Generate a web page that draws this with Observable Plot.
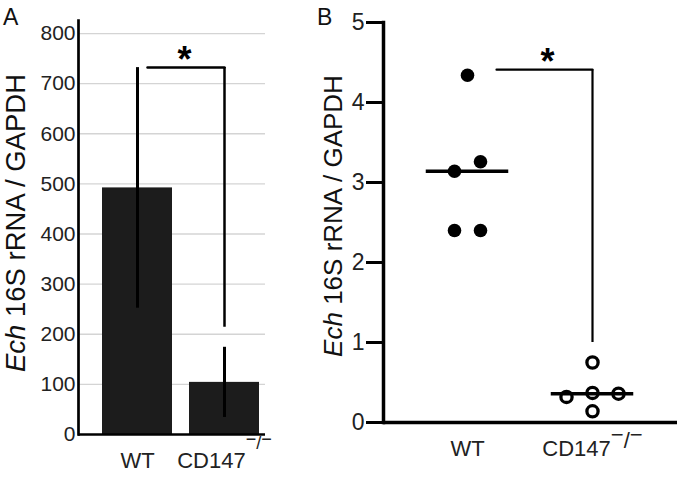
<!DOCTYPE html>
<html><head><meta charset="utf-8">
<script src="https://cdn.jsdelivr.net/npm/d3@7"></script>
<script src="https://cdn.jsdelivr.net/npm/@observablehq/plot@0.6"></script>
<style>
html,body{margin:0;padding:0;background:#fff;}
#wrap{position:relative;width:680px;height:480px;overflow:hidden;background:#fff;}
#wrap svg{position:absolute;top:0;}
</style></head><body><div id="wrap"></div>
<script>
// ---- data ----
const groups = ["WT", "CD147"];
const superscript = ["−", "/", "−"];
const yTitle = ["Ech", " 16S rRNA / GAPDH"];
const panelLetters = ["A", "B"];
// Panel A: mean ± SD
const meanA = [492, 104];
const sdA = [240, 70];
const yTicksA = [0, 100, 200, 300, 400, 500, 600, 700, 800];
// Panel B: individual values
const wtB = [4.34, 3.14, 3.26, 2.40, 2.40];
const cdB = [0.75, 0.32, 0.37, 0.36, 0.14];
const slotWT = [0, -0.5, 0.5, -0.5, 0.5];
const slotCD = [0, -1, 0, 1, 0];
const yTicksB = [0, 1, 2, 3, 4, 5];
// significance brackets
const sigA = {from: "WT", to: "CD147", top: 732, end: 214, label: "*"};
const sigB = {from: 1, to: 2, top: 4.41, end: 1.0, label: "*"};

const font = '"Liberation Sans", Arial, Helvetica, sans-serif';
const wrap = document.getElementById("wrap");

// ---- Panel A ----
const dataA = groups.map((g, i) => ({group: g, mean: meanA[i], lo: meanA[i] - sdA[i], hi: meanA[i] + sdA[i]}));
const plotA = Plot.plot({
  width: 300, height: 480,
  marginLeft: 78, marginRight: 35, marginTop: 20, marginBottom: 46,
  style: {fontFamily: font, color: "#111", background: "transparent", overflow: "visible"},
  x: {domain: groups, range: [85, 276], padding: 0.195, axis: null},
  y: {domain: [0, 826], axis: null},
  marks: [
    Plot.ruleY(yTicksA.filter(d => d > 0), {stroke: "#d4d4d4", strokeWidth: 1.3}),
    Plot.axisY({ticks: yTicksA, tickSize: 0, tickPadding: 3, fontSize: 21, label: null, fill: "#222"}),
    Plot.barY(dataA, {x: "group", y: "mean", fill: "#1c1c1c"}),
    Plot.ruleX(dataA, {x: "group", y1: "lo", y2: "hi", stroke: "#000", strokeWidth: 3}),
    Plot.axisX({tickSize: 0, tickPadding: 18, fontSize: 22, label: null, fill: "#222"}),
    Plot.frame({anchor: "left", stroke: "#000", strokeWidth: 2.7}),
    Plot.ruleY([0], {stroke: "#000", strokeWidth: 2.7}),
    Plot.arrow([sigA], {x1: "from", x2: "to", y1: "top", y2: "top", headLength: 0, insetStart: 10, stroke: "#000", strokeWidth: 2.5}),
    Plot.ruleX([sigA], {x: "to", y1: "end", y2: "top", stroke: "#000", strokeWidth: 2.5}),
    Plot.text([sigA], {x: "to", y: "top", text: "label", dx: -40, dy: 4, lineAnchor: "bottom", fontSize: 36, fontWeight: "bold", fill: "#000"})
  ]
});
plotA.style.left = "0px";
wrap.appendChild(plotA);

// ---- Panel B ----
const dotsWT = wtB.map((v, i) => ({gi: 1, v, slot: slotWT[i]}));
const dotsCD = cdB.map((v, i) => ({gi: 2, v, slot: slotCD[i]}));
const medB = [{gi: 1, m: d3.median(wtB)}, {gi: 2, m: d3.median(cdB)}];
const plotB = Plot.plot({
  width: 380, height: 480,
  marginLeft: 83, marginRight: 3, marginTop: 22, marginBottom: 58,
  style: {fontFamily: font, color: "#111", background: "transparent", overflow: "visible"},
  x: {type: "linear", domain: [0.328, 2.68], axis: null},
  y: {domain: [0, 5], axis: null},
  marks: [
    Plot.axisY({ticks: yTicksB, tickFormat: d3.format("d"), tickSize: 17, tickPadding: 2, fontSize: 23, strokeWidth: 3, stroke: "#000", label: null, fill: "#222"}),
    Plot.axisX({ticks: [1, 2], tickFormat: i => groups[i - 1], tickSize: 0, tickPadding: 18, fontSize: 22, label: null, fill: "#222"}),
    Plot.frame({anchor: "left", stroke: "#000", strokeWidth: 3.5}),
    Plot.ruleY([0], {stroke: "#000", strokeWidth: 3.5}),
    Plot.dot(dotsWT, {x: d => d.gi + d.slot * 0.208, y: "v", r: 6.8, fill: "#000", stroke: "none"}),
    Plot.dot(dotsCD, {x: d => d.gi + d.slot * 0.208, y: "v", r: 5.6, fill: "#fff", stroke: "#000", strokeWidth: 3.3}),
    Plot.ruleY(medB, {y: "m", x1: d => d.gi - 0.33, x2: d => d.gi + 0.33, stroke: "#000", strokeWidth: 3.5}),
    Plot.arrow([sigB], {x1: "from", x2: "to", y1: "top", y2: "top", headLength: 0, insetStart: 29, stroke: "#000", strokeWidth: 2.2}),
    Plot.ruleX([sigB], {x: "to", y1: "end", y2: "top", stroke: "#000", strokeWidth: 2.2}),
    Plot.text([sigB], {x: "to", y: "top", text: "label", dx: -45, dy: 4, lineAnchor: "bottom", fontSize: 36, fontWeight: "bold", fill: "#000"})
  ]
});
plotB.style.left = "300px";
wrap.appendChild(plotB);

// ---- decorations: panel letters, y titles, superscripts ----
function decorate(svg, o) {
  const s = d3.select(svg);
  s.append("text").attr("x", o.letterX).attr("y", 25).attr("font-family", font)
    .attr("text-anchor", "start")
    .attr("font-size", 23).attr("fill", "#111").text(o.letter);
  const t = s.append("text")
    .attr("transform", `translate(${o.titleX},${o.titleY}) rotate(-90)`)
    .attr("text-anchor", "middle").attr("font-family", font)
    .attr("font-size", o.titleSize).attr("fill", "#111");
  t.append("tspan").attr("font-style", "italic").text(yTitle[0]);
  t.append("tspan").text(yTitle[1]);
  s.selectAll('g[aria-label="x-axis tick label"] text')
    .filter(function () { return this.textContent === groups[1]; })
    .each(function () {
      const el = d3.select(this);
      el.append("tspan").attr("dy", o.supDy).attr("font-size", o.supSize).text(superscript[0]);
      el.append("tspan").attr("dy", o.slashDy).attr("font-size", o.supSize).text(superscript[1]);
      el.append("tspan").attr("dy", -o.slashDy).attr("font-size", o.supSize).text(superscript[2]);
    });
}
decorate(plotA, {letter: panelLetters[0], letterX: 3, titleX: 25, titleY: 223, titleSize: 27.5, supDy: -23, slashDy: 4, supSize: 18});
decorate(plotB, {letter: panelLetters[1], letterX: 17, titleX: 42, titleY: 216, titleSize: 26, supDy: -14.6, slashDy: 6, supSize: 22});
</script>
</body></html>
